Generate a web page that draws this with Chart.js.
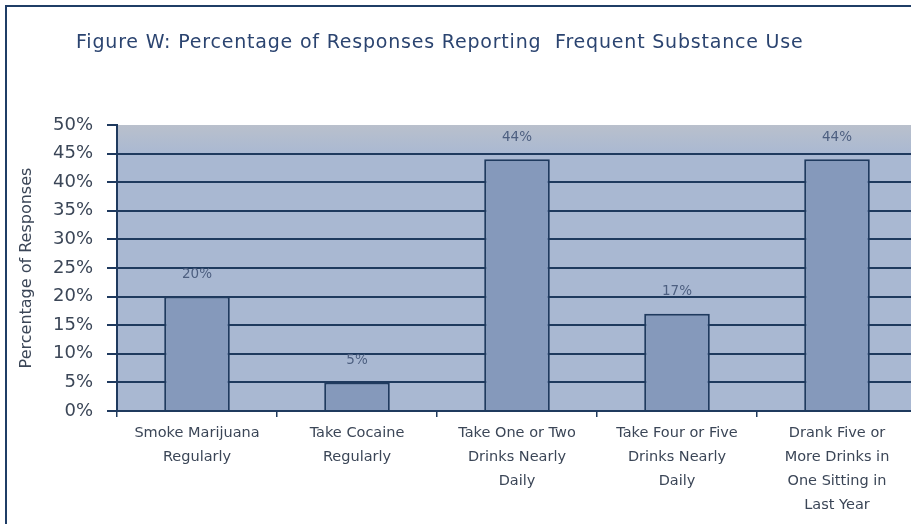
<!DOCTYPE html>
<html>
<head>
<meta charset="utf-8">
<script src="https://cdn.jsdelivr.net/npm/chart.js@4.4.1/dist/chart.umd.min.js"></script>
<style>
html,body{margin:0;padding:0;background:#fff;overflow:hidden;}
#wrap{position:absolute;left:0;top:0;width:911px;height:524px;overflow:hidden;}
#frame{position:absolute;left:5px;top:5px;width:940px;height:540px;border-top:2px solid #1f3d66;border-left:2px solid #1f3d66;}
#chart{position:absolute;left:0;top:0;}
</style>
</head>
<body>
<div id="wrap">
<div id="frame"></div>
<canvas id="chart" width="920" height="524"></canvas>
</div>
<script>
const titleText='Figure W: Percentage of Responses Reporting  Frequent Substance Use';
const categories=[
['Smoke Marijuana','Regularly'],
['Take Cocaine','Regularly'],
['Take One or Two','Drinks Nearly','Daily'],
['Take Four or Five','Drinks Nearly','Daily'],
['Drank Five or','More Drinks in','One Sitting in','Last Year']
];
const percents=[20,5,44,17,44];
const yTicks=[0,5,10,15,20,25,30,35,40,45,50];

const navy='#1f3a5e';

// plot background, figure title and value labels
const extras={
id:'extras',
beforeDraw(c){
const a=c.chartArea, x=c.ctx;
const g=x.createLinearGradient(0,a.top,0,a.top+30);
g.addColorStop(0,'#b9c0cc');
g.addColorStop(1,'#a9b8d2');
x.save();
x.fillStyle=g;
x.fillRect(a.left,a.top,a.right-a.left,a.bottom-a.top);
x.restore();
},
afterDraw(c){
const x=c.ctx;
x.save();
x.fillStyle='#2b4470';
x.font='19px "DejaVu Sans"';
x.letterSpacing='0.8px';
x.textBaseline='middle';
x.fillText(titleText,76,43,728);
x.letterSpacing='0px';
x.font='13.5px "DejaVu Sans"';
x.fillStyle='#4d5f80';
x.textAlign='center';
c.getDatasetMeta(0).data.forEach((bar,i)=>{
x.fillText(percents[i]+'%',bar.x,bar.y-22);
});
x.restore();
}
};

new Chart(document.getElementById('chart'),{
type:'bar',
data:{labels:categories,datasets:[{
data:percents,
backgroundColor:'#8599bb',
borderColor:navy,
borderWidth:2,
categoryPercentage:0.82,
barPercentage:0.5
}]},
options:{
responsive:false,
animation:false,
layout:{padding:{left:13,top:125,right:3,bottom:0}},
plugins:{legend:{display:false},tooltip:{enabled:false},title:{display:false}},
scales:{
x:{
offset:true,
grid:{offset:true,drawOnChartArea:false,color:navy,lineWidth:1.5,tickLength:6},
border:{color:navy,width:2},
ticks:{color:'#3b4657',font:{family:'DejaVu Sans',size:14.5,lineHeight:1.65},padding:4,maxRotation:0,autoSkip:false},
afterFit(s){s.height=113;}
},
y:{
min:0,max:50,
afterBuildTicks(s){s.ticks=yTicks.map(v=>({value:v}));},
grid:{color:(ctx)=>ctx.tick&&ctx.tick.value===50?'rgba(0,0,0,0)':navy,lineWidth:2,tickLength:10,tickColor:navy},
border:{color:navy,width:2},
ticks:{color:'#3b4657',font:{family:'DejaVu Sans',size:18},padding:14,callback:v=>v+'%'},
title:{display:true,text:'Percentage of Responses',color:'#3b4657',font:{family:'DejaVu Sans',size:16}},
afterFit(s){s.width=104;}
}
}
},
plugins:[extras]
});
</script>
</body>
</html>
